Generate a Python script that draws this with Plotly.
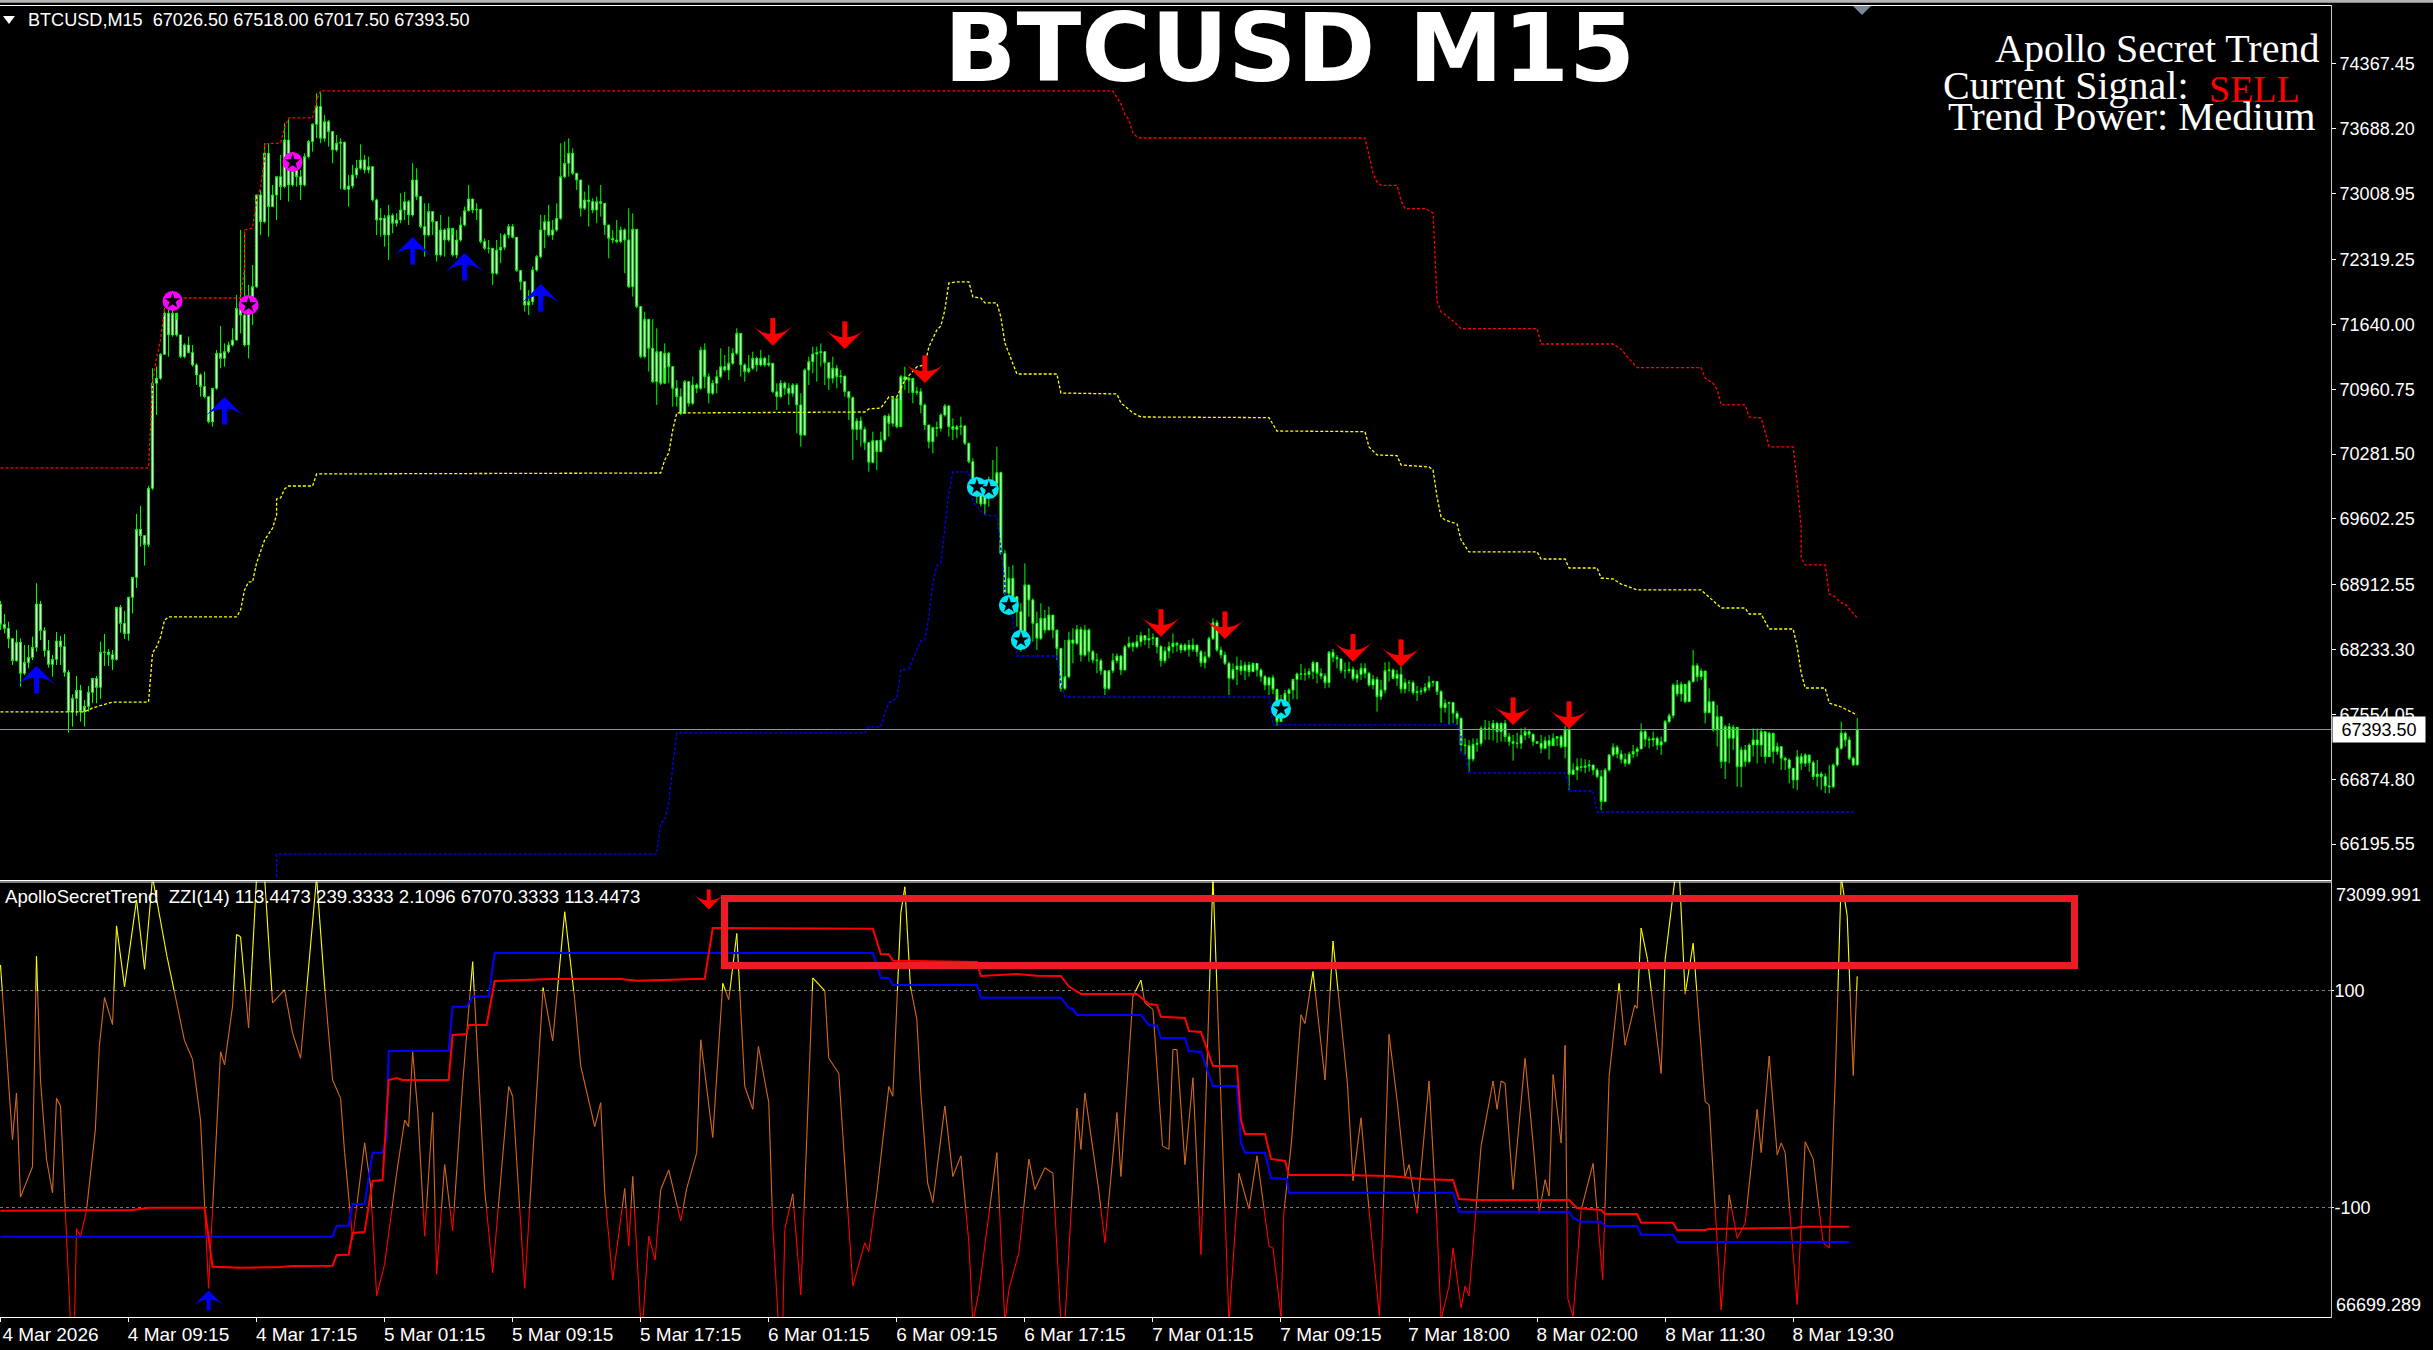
import plotly.graph_objects as go

W, H = 2433, 1350

# candles, one value per bar, open = previous close
closes = [
68498,68456,68348,68117,68309,67985,68100,68152,68257,68711,
68432,68222,68079,68131,68323,68264,67995,67583,67723,67807,
67583,67639,67786,67932,67838,68205,68208,68180,68131,68676,
68508,68400,68781,68990,69493,69427,69333,69923,
71023,71075,71326,71756,71529,71756,71529,71302,71424,71344,71215,71110,
70988,70883,70621,70970,71337,71284,71354,71424,71476,71808,
71738,71424,71843,72035,72995,72716,73432,72873,72995,73187,
73083,73571,73100,73344,73187,73100,73397,73554,73736,73921,
73589,73763,73659,73467,73537,73547,73055,73090,73205,73275,
73362,73257,73292,72943,72733,72751,72576,72779,72699,72733,
72838,72925,72786,73152,72978,72664,72576,72821,72716,72367,
72629,72524,72646,72367,72524,72681,72831,72953,72838,72845,
72507,72437,72437,72175,72419,72447,72576,72664,72552,72203,
72087,71843,71878,72210,72349,72629,72716,72576,72629,72751,
73187,73327,73432,73222,73152,72856,72943,72925,72838,72925,
72908,72681,72541,72524,72507,72629,72524,72035,72636,71826,
71302,71693,71389,71040,71354,71023,71337,71197,70970,70883,
70708,71040,70813,71005,70970,71372,71092,70918,71023,71092,
71197,71162,71232,71337,71546,71215,71145,71180,71284,71215,
71284,71215,71232,70935,70883,71023,70970,70918,71005,70796,
70481,71162,71249,71330,71344,71354,71239,71075,71179,71092,
71099,70935,70872,70540,70628,70540,70401,70195,70422,70306,
70429,70680,70603,70865,70568,71092,71057,71075,70925,70935,
70795,70586,70411,70558,70551,70691,70785,70568,70540,70568,
70575,70394,70202,69975,69940,69758,69905,69912,69975,70087,
69241,68823,68980,68788,68630,68403,68910,68753,68508,68351,
68561,68438,68595,68438,68246,67827,67950,68334,68299,68445,
68177,68438,68211,68124,68117,68012,67827,68012,68117,68166,
68019,68264,68299,68264,68316,68379,68334,68351,68358,68264,
68117,68218,68264,68299,68281,68229,68281,68236,68281,68211,
68096,68159,68351,68515,68229,68177,68089,67932,68026,68061,
68012,68072,68002,68089,68019,67950,67862,67939,
67817,67479,67636,67775,67810,67922,67978,67978,67974,68002,
68097,67985,67957,67887,68205,68152,68135,68013,68013,68027,
67932,67974,68037,67985,67863,67922,67740,67810,68013,68020,
67932,67974,67821,67887,67887,67782,67793,67800,67835,67891,
67898,67793,67625,67671,67678,67566,67513,67234,67227,67087,
67241,67252,67409,67409,67409,67461,67374,67461,67321,67269,
67252,67252,67335,67374,67346,67269,67252,67199,67279,67227,
67304,67321,67217,67391,66927,
66972,67007,67000,67014,67025,66972,66903,66641,66972,67130,
67210,67140,67084,67042,67140,67165,67193,67374,67294,67287,
67304,67234,67269,67479,67542,67863,67769,67870,67688,67898,
68065,67950,68009,67573,67688,67392,67531,67060,67426,67304,
67419,67007,67182,67060,67234,67287,67234,67374,67112,67357,
67165,67217,67095,67077,66990,66868,67112,67042,67130,67049,
66903,66930,66903,66805,66798,67025,67199,67357,67287,67095,
67026.5,67393.5,
]
highs = [
68743,68606,68526,68351,68439,68351,68282,68282,68369,68928,
68743,68467,68334,68177,68418,68376,68397,68020,67765,67957,
67863,67705,67852,67932,67957,68317,68397,68240,68229,68676,
68701,68638,68781,68990,69654,69738,69430,69947,
71180,71197,71337,71808,71791,71791,71686,71529,71441,71511,71424,71232,
71127,71145,70883,70970,71372,71623,71441,71459,71599,71948,
72629,72611,72053,72262,72995,73048,73537,73530,73100,73187,
73414,73746,73788,73432,73362,73257,73432,73571,73746,74060,
74078,73833,73781,73659,73624,73589,73554,73205,73310,73362,
73526,73414,73397,73299,72957,72856,72786,72891,72803,72803,
73013,73030,72943,73327,73275,72978,72908,72908,72821,72716,
72786,72646,72768,72576,72629,72768,72873,73100,72953,72908,
72845,72541,72524,72437,72524,72594,72594,72692,72692,72552,
72210,72087,71999,72245,72367,72786,72786,72891,72733,72908,
73537,73554,73589,73484,73222,73152,73030,73100,72960,72978,
73100,72901,72681,72629,72733,72664,72646,72856,72803,72636,
71826,71773,71693,71693,71599,71354,71441,71354,71197,71057,
70970,71057,71040,71092,71023,71407,71441,71127,71057,71162,
71389,71319,71407,71389,71599,71546,71232,71319,71354,71302,
71372,71302,71319,71232,71023,71057,71040,71023,71023,71023,
70918,71179,71302,71406,71406,71441,71354,71239,71302,71214,
71162,71099,70935,70883,70656,70673,70568,70411,70516,70429,
70516,70691,70708,70883,70883,71110,71197,71092,71040,70987,
70970,70813,70586,70568,70621,70708,70806,70796,70656,70586,
70673,70586,70401,70237,70045,70010,70010,70045,70219,70359,
70097,69276,69102,69119,68788,68718,69137,68910,68770,68630,
68718,68648,68683,68595,68403,68246,68334,68421,68456,68491,
68473,68491,68456,68229,68194,68142,68019,68019,68194,68194,
68177,68281,68369,68316,68386,68421,68386,68456,68403,68358,
68281,68264,68316,68403,68316,68299,68299,68334,68351,68264,
68229,68211,68369,68561,68543,68264,68211,68107,68089,68159,
68124,68107,68107,68096,68089,68037,67967,67950,
67967,67740,67758,67810,67828,67922,67995,68083,68037,68037,
68118,68104,68037,67985,68219,68240,68177,68142,68097,68107,
68055,68020,68090,68090,68002,67967,67950,67915,68100,68107,
68037,68020,68055,67932,67915,67908,67852,67835,67880,67957,
67908,67898,67810,67712,67688,67688,67590,67524,67304,67286,
67304,67304,67433,67496,67486,67496,67478,67468,67496,67363,
67339,67363,67409,67419,67398,67356,67259,67339,67321,67339,
67356,67328,67339,67433,67419,
67042,67095,67095,67084,67077,67025,66990,66972,66990,67140,
67252,67234,67182,67147,67165,67234,67217,67461,67391,67322,
67374,67322,67322,67496,67566,67880,67915,67898,67776,67915,
68230,68090,68037,67922,67828,67688,67653,67531,67444,67461,
67444,67322,67217,67234,67252,67409,67409,67409,67357,67374,
67217,67259,67217,67112,67095,66990,67182,67147,67147,67095,
67070,67077,66955,66937,67025,67042,67217,67479,67374,67322,
67112,67518,
]
lows = [
68439,68404,68247,68072,68107,67845,67967,68037,68124,68212,
68334,68159,68044,67950,68072,68072,67950,67363,67426,67541,
67478,67426,67583,67671,67671,67719,68062,68062,68020,68118,
68411,68345,68327,68613,68879,69312,69113,69305,
69905,70691,71057,71319,71302,71511,71511,71284,71284,71337,71197,71005,
70883,70865,70603,70569,70953,71180,71197,71337,71407,71470,
71546,71407,71284,71634,72018,72576,72699,72559,72873,72733,
72943,73065,72925,73083,73083,72943,73083,73379,73449,73589,
73537,73554,73502,73327,73449,73055,73048,72873,73065,73170,
73257,73222,73222,72925,72576,72559,72454,72315,72594,72664,
72699,72733,72681,72768,72943,72646,72349,72559,72576,72297,
72349,72349,72507,72349,72332,72507,72664,72821,72803,72733,
72489,72419,72384,72053,72157,72280,72419,72541,72541,72192,
71999,71773,71738,71843,72192,72332,72437,72559,72524,72611,
72733,73170,73187,73205,73048,72768,72838,72664,72803,72699,
72768,72576,72332,72489,72489,72489,72175,72018,71930,71808,
71284,71284,71145,71023,70796,71005,71180,71023,70778,70778,
70691,70708,70778,70796,70918,70953,70970,70813,70900,70918,
71075,71145,71057,71215,71319,71092,71040,71127,71162,71145,
71197,71197,71197,70918,70743,70865,70900,70796,70883,70499,
70359,70474,71005,71127,71040,71197,71005,70953,71022,70970,
71022,70883,70638,70219,70429,70359,70324,70097,70184,70114,
70306,70411,70464,70568,70551,70848,70953,70918,70813,70900,
70708,70534,70341,70289,70464,70516,70673,70464,70429,70446,
70481,70376,70184,69957,69765,69730,69643,69730,69818,69870,
69224,68805,68700,68613,68473,68211,68403,68578,68316,68229,
68334,68403,68438,68351,68124,67792,67810,67932,68089,68281,
68107,68159,68107,68089,67985,67967,67757,67810,67985,68089,
67967,68019,68246,68211,68246,68264,68281,68246,68281,68194,
68054,68089,68142,68194,68211,68194,68211,68159,68211,68159,
68054,68037,68142,68334,68211,68142,68072,67757,67915,67862,
67967,67915,67950,68002,67950,67897,67810,67757,
67768,67433,67548,67636,67671,67712,67712,67915,67908,67932,
67922,67880,67922,67828,67835,68100,68037,67985,67932,67985,
67908,67887,67915,67932,67845,67817,67583,67705,67775,67898,
67922,67852,67775,67775,67793,67758,67695,67758,67775,67803,
67845,67758,67468,67573,67444,67461,67444,67164,67129,66955,
67060,67164,67224,67286,67286,67279,67258,67269,67269,67224,
67070,67199,67192,67286,67304,67224,67245,67147,67199,67084,
67286,67224,67199,67094,66763,
66920,66868,66955,66938,66955,66920,66885,66553,66641,66955,
67112,67095,67042,67007,67025,67095,67112,67193,67217,67199,
67217,67182,67130,67259,67461,67514,67741,67688,67671,67688,
67887,67898,67915,67461,67566,67374,67217,66990,66878,67042,
67182,66798,66791,67007,67042,67112,67042,67112,67042,67182,
67042,67130,66973,66973,66833,66780,66763,66973,67007,66955,
66868,66798,66763,66728,66728,66780,67007,67182,67217,67077,
67014,67017.5,
]
bars = list(range(len(closes)))
opens = [closes[0] + 210] + closes[:-1]

# dotted price envelopes on the main window (bar, price)
red_bars = [0,37,38,39,40,41,42,60,61,61,63,64,65,66,66,70,71,72,78,79,80,278,280,281,282,283,284,285,341,342,343,344,345,349,350,351,356,358,359,360,361,363,364,365,384,385,403,405,407,409,425,426,428,429,430,436,437,440,441,442,448,449,450,450,451,456,457,458,460,461,464]
red_vals = [70136,70136,71026,71288,71476,71812,71916,71916,72241,72629,72650,72943,73069,73393,73530,73540,73697,73802,73802,73990,74085,74085,73949,73839,73781,73645,73603,73592,73592,73425,73226,73132,73095,73095,72936,72853,72853,72807,71885,71770,71744,71676,71634,71596,71596,71434,71434,71382,71277,71187,71187,71078,71021,70953,70796,70796,70670,70659,70513,70356,70356,69979,69507,69193,69120,69120,68816,68800,68722,68711,68564]
yellow_bars = [0,21,23,28,37,38,39,40,41,42,59,60,61,62,63,64,66,68,69,69,70,71,72,78,79,165,166,167,168,169,216,217,220,221,222,224,226,229,231,232,234,235,236,237,239,242,243,245,246,249,250,251,252,253,254,264,265,279,280,283,285,317,319,341,342,344,349,350,357,358,359,360,361,364,365,367,384,385,391,392,399,400,403,405,409,425,427,428,430,436,437,440,442,448,449,450,451,456,457,460,464]
yellow_vals = [67580,67580,67622,67684,67684,68198,68261,68365,68543,68575,68575,68648,68858,68942,68942,69141,69381,69507,69643,69811,69822,69916,69947,69947,70073,70083,70220,70293,70534,70712,70722,70754,70764,70827,70879,70882,71057,71194,71215,71403,71581,71623,71791,72074,72084,72084,71927,71916,71864,71864,71717,71445,71340,71246,71120,71120,70921,70911,70817,70712,70670,70663,70523,70516,70356,70272,70265,70167,70146,70115,69832,69622,69591,69549,69381,69256,69256,69182,69182,69088,69088,68983,68973,68920,68858,68858,68784,68753,68669,68669,68606,68606,68449,68449,68261,67988,67831,67831,67674,67632,67548]
blue_bars = [69,69,164,165,166,167,168,169,216,217,220,221,222,224,225,227,229,230,231,232,233,234,235,236,237,238,242,243,246,249,250,251,251,253,254,264,265,266,317,318,364,365,365,366,367,391,392,392,398,399,463]
blue_vals = [65851,66092,66092,66417,66448,66627,67004,67360,67360,67423,67423,67569,67674,67726,68020,68030,68229,68324,68334,68575,68931,69109,69141,69486,69874,70094,70094,69780,69643,69633,69277,68931,68826,68575,68166,68166,67883,67737,67737,67444,67444,67318,67140,67129,66941,66941,66815,66752,66752,66532,66532]

# arrows (bar, tip price) and star circles (bar, price)
buy_bars = [9,56,103,116,135]
buy_prices = [68062,70879,72555,72388,72063]
sell_bars = [193,211,231,290,306,338,350,378,392]
sell_prices = [71417,71382,71026,68368,68344,68107,68051,67444,67402]
magenta_bars = [43,62,73]
magenta_prices = [71885,71843,73341]
cyan_bars = [244,247,252,255,320]
cyan_prices = [69937,69916,68701,68334,67611]

# lower window: oscillator (bar, value)
zzi_bars = [0,1,3,4,5,8,9,10,11.5,13,14,15,16,17.5,18.5,19,20,21.5,23.7,24.7,26,28,29,31,34,36,38,41.6,46,48,50,52,55,56,58,59,60,62,64,66,68,71,73,75,79,81,83,85,86,88,91,92.5,94,96,99,101,102,103,104.3,106,108,109,111,113,115.5,118,121,123,127,128,131,135.6,138,141,143.5,145,148.5,150,151,153,156,157,158,160,160.5,162,163.6,165,167,170,171.5,174,175,178,180.5,182,184,186,188,189.4,192,193,194.4,195.5,196,198,200,203,206,207,209.5,213,216,217,219,222,223,225,
226,227.4,229,230,231.7,233,236,238,240,242,243,244.5,249,251,252,254.5,257,258.5,261,263,265,266,269,270,271,274.5,276,279,280,283,285,286,288,290.4,292,293,294,296,298,300,303,307,309.5,312,314,317,318,320,320.7,322.6,325,326,328,331,333,336.6,338,340,342,344.6,345.7,347,349,351,352,354,357,359,360,362,363,365,366,367,370,373,374,375,376,378,381,383,384.5,386,387,388,390,391,391.7,393,395,398,400.4,402,404.5,406,408.4,409,410,411.6,415,416,418.5,419.6,421,423,426,427,430,432,434,436,439,440,442,444,445,446,449,451,453,455.5,457,458.6,460,461.5,463,464]
zzi_vals = [124,71,-37,6,-90,-62,132,18,-55,-86,1,-6,-86,-206,-206,-119,-126,-102,-28,49,94,69,160,104,184,120,205,132,54,37,-19,-174,44,32,86,152,150,66,205,205,89,101,61,38,205,104,18,1,-49,-129,-40,-80,-181,-152,-68,-19,-25,44,-12,-126,-12,-161,-60,-121,15,127,-83,-160,12,3,-174,103,54,173,92,31,-25,-3,-86,-166,-82,-135,-71,-206,-206,-126,-148,-83,-65,-112,-82,-49,55,-35,107,92,153,12,-9,49,-3,-117,-206,-206,-120,-87,-180,112,100,38,24,-172,-132,-140,-86,12,3,172,
196,104,74,6,-77,-95,-6,-71,-52,-132,-206,-177,-49,-206,-175,-141,-55,-83,-63,-68,-206,-206,-8,-46,6,-85,-132,-12,-71,95,110,89,83,-43,-46,46,46,-60,20,-143,205,-206,-68,-101,-52,-135,-137,-200,-105,-40,78,70,118,18,146,15,-75,-17,-102,-200,-86,60,0,-71,-60,-105,17,-117,-203,-172,-137,-192,-172,-181,-43,17,-9,17,15,-83,38,-40,-105,-74,-89,23,-40,50,-184,-200,-102,-59,-166,21,107,50,87,84,158,129,24,129,205,205,97,144,-2,-5,-194,-88,-128,-114,-9,-49,40,-51,-40,-49,-189,-39,-55,-132,-137,28,205,169,22,113.4473]
# lower window: slow lines, on the price scale of that window (bar, price)
sub_blue_bars = [0,83,84,87,88,91,93,95.5,96.5,97,112,113,116.5,118,122,123.5,218,220,222,223,244,245,265,267,268,269,285,287,289,290,296,297,300,303,309,310,311,316,317.5,321.5,322,363,364.5,392,393,395,400,401,409,410,418,419,462]
sub_blue_vals = [67880,67880,68042,68042,68360,68360,69114,69114,69345,70609,70614,71260,71260,71408,71408,72050,72050,71682,71682,71580,71580,71393,71393,71241,71227,71138,71138,70991,70981,70800,70800,70609,70595,70095,70095,69257,69114,69114,68742,68728,68526,68526,68247,68243,68154,68100,68100,68037,68037,67909,67909,67802,67802]
sub_red_bars = [0,33,37,51,53,60,70,73,83,84,87,88,91,93,95.5,97,99,100.5,112,113,116.5,117,121.5,123.5,138,155,159,176,178,192,218,220,222,223,234,244,245,249,254,259,265,267,270,284,287,289,290,296,297,300,303,309,310,311,316,317.5,321,322,335,347,356,363,364.5,368.5,392,394,400,401,409,410,418,419,426,427,449,450,462]
sub_red_vals = [68262,68272,68305,68305,67438,67423,67434,67449,67453,67610,67615,67934,67949,68699,68713,70183,70212,70183,70183,70845,70859,70991,70991,71638,71668,71668,71643,71672,72417,72417,72407,72035,72031,71937,71922,71918,71711,71726,71741,71716,71711,71555,71447,71447,71300,71285,71113,71094,70903,70889,70389,70389,69595,69389,69389,69022,68992,68786,68786,68772,68723,68713,68434,68419,68419,68301,68272,68213,68213,68085,68085,67978,67978,67992,68012,68027,68027]
sub_buy_bars, sub_buy_values = [52], [-176]
sub_sell_bars, sub_sell_values = [177], [175]

# axis labels
price_ticks = [74367.45,73688.20,73008.95,72319.25,71640.00,70960.75,70281.50,69602.25,68912.55,68233.30,67554.05,66874.80,66195.55]
time_ticks = list(range(0, 449, 32))
time_labels = ["4 Mar 2026","4 Mar 09:15","4 Mar 17:15","5 Mar 01:15","5 Mar 09:15","5 Mar 17:15","6 Mar 01:15","6 Mar 09:15","6 Mar 17:15","7 Mar 01:15","7 Mar 09:15","7 Mar 18:00","8 Mar 02:00","8 Mar 11:30","8 Mar 19:30"]
last_price = 67393.5


def px(x):
    return x / W


def py(y):
    return 1 - y / H


def split_levels(xs, ys, levels=(-100, 100)):
    # the oscillator changes colour where it crosses its two levels
    out = {"low": ([], []), "mid": ([], []), "high": ([], [])}
    for x0, y0, x1, y1 in zip(xs, ys, xs[1:], ys[1:]):
        cuts = [0, 1]
        for lv in levels:
            if (y0 - lv) * (y1 - lv) < 0:
                cuts.append((lv - y0) / (y1 - y0))
        cuts.sort()
        for a, b in zip(cuts, cuts[1:]):
            mid = y0 + (y1 - y0) * (a + b) / 2
            band = "low" if mid < levels[0] else "high" if mid > levels[1] else "mid"
            out[band][0].extend([x0 + (x1 - x0) * a, x0 + (x1 - x0) * b, None])
            out[band][1].extend([y0 + (y1 - y0) * a, y0 + (y1 - y0) * b, None])
    return out


fig = go.Figure()

fig.add_trace(go.Candlestick(
    x=bars, open=opens, high=highs, low=lows, close=closes,
    increasing=dict(line=dict(color="#00ff00", width=1), fillcolor="#ffffff"),
    decreasing=dict(line=dict(color="#00ff00", width=1), fillcolor="#ffffff"),
    whiskerwidth=0, xaxis="x", yaxis="y",
))

for xs, ys, col in [(red_bars, red_vals, "#ff0000"), (yellow_bars, yellow_vals, "#ffff00"), (blue_bars, blue_vals, "#0000ff")]:
    fig.add_trace(go.Scatter(x=xs, y=ys, mode="lines", xaxis="x", yaxis="y",
                             line=dict(color=col, width=1.3, dash="3px,2px")))

for xs, ys, col in [(magenta_bars, magenta_prices, "#ff00ff"), (cyan_bars, cyan_prices, "#00e5f5")]:
    fig.add_trace(go.Scatter(x=xs, y=ys, mode="markers", xaxis="x", yaxis="y",
                             marker=dict(symbol="circle", size=20, color=col)))
    fig.add_trace(go.Scatter(x=xs, y=ys, mode="markers", xaxis="x", yaxis="y",
                             marker=dict(symbol="star", size=12, color="#000000")))

bands = split_levels(zzi_bars, zzi_vals)
for band, col in [("mid", "#d2691e"), ("high", "#ffff00"), ("low", "#ff0000")]:
    fig.add_trace(go.Scatter(x=bands[band][0], y=bands[band][1], mode="lines", xaxis="x2", yaxis="y2",
                             line=dict(color=col, width=1.1)))

fig.add_trace(go.Scatter(x=sub_blue_bars, y=sub_blue_vals, mode="lines", xaxis="x2", yaxis="y3",
                         line=dict(color="#0000ff", width=2)))
fig.add_trace(go.Scatter(x=sub_red_bars, y=sub_red_vals, mode="lines", xaxis="x2", yaxis="y3",
                         line=dict(color="#ff0000", width=2)))


def add_arrows(xs, ys, col, up, xaxis="x", yaxis="y", head=28, shaft=18, shaft_w=5, off=15):
    angle = 0 if up else 180
    fig.add_trace(go.Scatter(x=xs, y=ys, mode="markers", xaxis=xaxis, yaxis=yaxis,
                             marker=dict(symbol="line-ns", size=shaft, angle=angle, standoff=off,
                                         line=dict(color=col, width=shaft_w))))
    fig.add_trace(go.Scatter(x=xs, y=ys, mode="markers", xaxis=xaxis, yaxis=yaxis,
                             marker=dict(symbol="arrow-wide", size=head, angle=angle, color=col, line=dict(width=0))))


add_arrows(buy_bars, buy_prices, "#0000ff", True)
add_arrows(sell_bars, sell_prices, "#ff0000", False)
add_arrows(sub_buy_bars, sub_buy_values, "#0000ff", True, "x2", "y2", head=22, shaft=13, shaft_w=4, off=11)
add_arrows(sub_sell_bars, sub_sell_values, "#ff0000", False, "x2", "y2", head=22, shaft=13, shaft_w=4, off=11)


def label(x, y, text, size=18, color="#ffffff", family="Liberation Sans", xanchor="left"):
    return dict(x=px(x), y=py(y), xref="paper", yref="paper", text=text, showarrow=False,
                xanchor=xanchor, yanchor="middle", font=dict(family=family, size=size, color=color))


notes = []
notes.append(label(26, 20, "BTCUSD,M15\u00a0\u00a067026.50 67518.00 67017.50 67393.50", 18.1))
notes.append(label(3, 897, "ApolloSecretTrend\u00a0\u00a0ZZI(14) 113.4473 239.3333 2.1096 67070.3333 113.4473", 18.6))
notes.append(label(1289, 48, "<b>BTCUSD M15</b>", size=95, family="DejaVu Sans", xanchor="center"))
notes.append(label(2321, 48, "Apollo Secret Trend", 40, family="Liberation Serif", xanchor="right"))
notes.append(label(1941, 85, "Current Signal:", 40, family="Liberation Serif"))
notes.append(label(2207, 89, "SELL", 38, "#ff0000", "Liberation Serif"))
notes.append(label(2318, 116, "Trend Power: Medium", 40.5, family="Liberation Serif", xanchor="right"))
notes.append(label(2334, 895, "73099.991"))
notes.append(label(2334, 1305, "66699.289"))
notes.append(dict(x=px(2332), y=last_price, xref="paper", yref="y", text=f"{last_price:.2f}", showarrow=False,
                  xanchor="left", yanchor="middle", width=90, height=23, bgcolor="#ffffff",
                  font=dict(family="Liberation Sans", size=18, color="#000000")))


def hline(y, x0=0, x1=2331, col="#ffffff", w=1):
    return dict(type="line", xref="paper", yref="paper", x0=px(x0), x1=px(x1), y0=py(y), y1=py(y),
                line=dict(color=col, width=w))


def tri(x, y, half, tall, col):
    path = f"M {px(x - half)} {py(y)} L {px(x + half)} {py(y)} L {px(x)} {py(y + tall)} Z"
    return dict(type="path", xref="paper", yref="paper", path=path, fillcolor=col, line=dict(width=0))


shapes = [
    dict(type="rect", xref="paper", yref="paper", x0=0, x1=1, y0=py(2.7), y1=1, fillcolor="#b4b4b4", line=dict(width=0)),
    hline(5.5), hline(880.5), hline(882), hline(1317.5),
    dict(type="line", xref="paper", yref="paper", x0=px(2331.5), x1=px(2331.5), y0=py(5), y1=py(1318), line=dict(color="#c8c8c8", width=1)),
    hline(729.5, col="#8a929a"),
    # red box drawn over the lower window
    dict(type="rect", xref="paper", yref="paper", x0=px(724.5), x1=px(2074.5), y0=py(965.5), y1=py(898.5),
         line=dict(color="#ed1c24", width=7), fillcolor="rgba(0,0,0,0)"),
    tri(1862, 6, 9, 9, "#778899"),
    tri(9, 16, 6, 8, "#ffffff"),
]

tick_font = dict(family="Liberation Sans", size=18, color="#ffffff")
fig.update_layout(
    width=W, height=H, margin=dict(l=0, r=0, t=0, b=0), showlegend=False, hovermode=False,
    paper_bgcolor="#000000", plot_bgcolor="#000000", boxgap=0.3,
    annotations=notes, shapes=shapes,
    xaxis=dict(domain=[0, px(2331)], range=[-0.12, 582.4], anchor="y", showticklabels=False, showgrid=False,
               zeroline=False, ticks="", rangeslider=dict(visible=False)),
    xaxis2=dict(domain=[0, px(2331)], range=[-0.12, 582.4], anchor="y2", showgrid=False, zeroline=False,
                tickmode="array", tickvals=time_ticks, ticktext=time_labels, ticks="outside", ticklen=4,
                tickcolor="#ffffff", tickfont=dict(family="Liberation Sans", size=19, color="#ffffff"),
                ticklabelshift=50, ticklabelstandoff=-4, ticklabeloverflow="allow"),
    yaxis=dict(domain=[py(880), py(5)], range=[65820, 74985], side="right", anchor="x", showgrid=False, zeroline=False,
               tickmode="array", tickvals=price_ticks, tickformat=".2f", ticks="outside", ticklen=4,
               tickcolor="#ffffff", tickfont=tick_font),
    yaxis2=dict(domain=[py(1317), py(881.5)], range=[-200.5, 200.9], side="right", anchor="x2", zeroline=False,
                tickmode="array", tickvals=[100, -100], ticktext=["100", "-100"], ticks="outside", ticklen=2,
                tickcolor="#ffffff", tickfont=tick_font, ticklabelstandoff=-3,
                showgrid=True, gridcolor="#7a7a7a", griddash="3px,3px", gridwidth=1),
    yaxis3=dict(range=[66699.289, 73099.991], overlaying="y2", anchor="x2", side="right", visible=False),
)

fig.write_html("out.html", config={"displayModeBar": False}, post_script="document.body.style.margin='0';document.body.style.background='#000';")
